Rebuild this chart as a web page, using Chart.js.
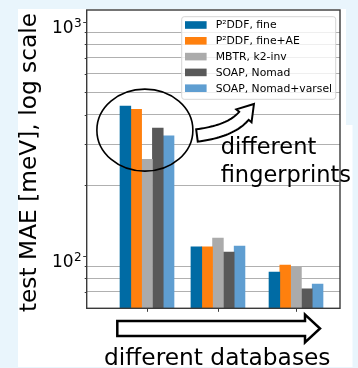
<!DOCTYPE html>
<html>
<head>
<meta charset="utf-8">
<script src="https://cdn.jsdelivr.net/npm/chart.js@4.4.0/dist/chart.umd.min.js"></script>
<style>
  html, body { margin: 0; padding: 0; background: #e9f5fc; }
  canvas { display: block; }
</style>
</head>
<body>
<canvas id="c" width="358" height="368"></canvas>
<script>
// Group positions along the x axis (one group per database)
const groupPositions = [0, 1, 2.1];

// Fingerprint series, test MAE in meV
const seriesLabels = ['P²DDF, fine', 'P²DDF, fine+AE', 'MBTR, k2-inv', 'SOAP, Nomad', 'SOAP, Nomad+varsel'];
const p2ddfFine       = [436, 109, 85.2];
const p2ddfFineAE     = [422, 109, 91.3];
const mbtrK2inv       = [258, 119, 89.5];
const soapNomad       = [351, 103.7, 72.1];
const soapNomadVarsel = [325, 110, 75.7];

// Log axis: labelled decades and minor grid values
const yTickValues = [100, 1000];
const yTickExponents = ['2', '3'];
const yGridValues = [70, 80, 90, 200, 300, 400, 500, 600, 700, 800, 900];

const seriesColors = ['#006BA4', '#FF800E', '#ABABAB', '#595959', '#5F9ED1'];
const seriesValues = [p2ddfFine, p2ddfFineAE, mbtrK2inv, soapNomad, soapNomadVarsel];

const FONT = '"DejaVu Sans", "Liberation Sans", sans-serif';

const datasets = seriesValues.map((vals, i) => ({
  label: seriesLabels[i],
  data: vals.map((v, g) => ({ x: groupPositions[g], y: v })),
  backgroundColor: seriesColors[i],
  borderWidth: 0,
  barThickness: 10.8
}));

// page background and white figure panel
const panelPlugin = {
  id: 'panel',
  beforeDraw(chart) {
    const ctx = chart.ctx;
    ctx.save();
    ctx.fillStyle = '#e9f5fc';
    ctx.fillRect(0, 0, chart.width, chart.height);
    ctx.fillStyle = '#ffffff';
    ctx.fillRect(18, 9, 328, 358);
    ctx.fillRect(346, 125, 6.5, 242);
    ctx.restore();
  }
};

// frame, ticks, tick labels, legend and annotations
const decorPlugin = {
  id: 'decor',
  afterDatasetsDraw(chart) {
    const ctx = chart.ctx;
    const ca = chart.chartArea;
    const xs = chart.scales.x, ys = chart.scales.y;
    ctx.save();

    // frame
    ctx.strokeStyle = '#3a3a3a';
    ctx.lineWidth = 1.4;
    ctx.strokeRect(ca.left, ca.top, ca.right - ca.left, ca.bottom - ca.top);

    // x ticks
    ctx.lineWidth = 1;
    groupPositions.forEach(p => {
      const px = Math.round(xs.getPixelForValue(p)) + 0.5;
      ctx.beginPath();
      ctx.moveTo(px, ca.bottom);
      ctx.lineTo(px, ca.bottom + 3.5);
      ctx.stroke();
    });
    // y ticks (major and minor)
    yTickValues.concat(yGridValues).forEach(v => {
      const py = Math.round(ys.getPixelForValue(v)) + 0.5;
      const len = yTickValues.includes(v) ? 3.5 : 2;
      ctx.beginPath();
      ctx.moveTo(ca.left, py);
      ctx.lineTo(ca.left - len, py);
      ctx.stroke();
    });

    // y tick labels with superscript exponents
    ctx.fillStyle = '#000';
    ctx.textBaseline = 'alphabetic';
    yTickValues.forEach((v, i) => {
      const py = ys.getPixelForValue(v);
      ctx.font = '12px ' + FONT;
      const ew = ctx.measureText(yTickExponents[i]).width;
      const right = ca.left - 5;
      ctx.textAlign = 'right';
      ctx.fillText(yTickExponents[i], right, py + 5.3);
      ctx.font = '17px ' + FONT;
      ctx.fillText('10', right - ew - 0.5, py + 11.5);
    });

    // y axis title
    ctx.save();
    ctx.translate(36, 162.5);
    ctx.rotate(-Math.PI / 2);
    ctx.font = '23.3px ' + FONT;
    ctx.textAlign = 'center';
    ctx.fillText('test MAE [meV], log scale', 0, 0);
    ctx.restore();

    // legend
    const fs = 10.8;
    const lw = 154, lh = 82.6;
    const lx = ca.right - 4.3 - lw, ly = ca.top + 6.7;
    ctx.beginPath();
    ctx.roundRect(lx, ly, lw, lh, 2.5);
    ctx.fillStyle = 'rgba(255,255,255,0.8)';
    ctx.fill();
    ctx.strokeStyle = '#d6d6d6';
    ctx.lineWidth = 1;
    ctx.stroke();
    ctx.font = fs + 'px ' + FONT;
    ctx.textAlign = 'left';
    ctx.textBaseline = 'middle';
    chart.data.datasets.forEach((ds, i) => {
      const cy = ly + 8.3 + i * 15.8;
      ctx.fillStyle = ds.backgroundColor;
      ctx.fillRect(lx + 3.3, cy - 3.8, 21.6, 7.6);
      ctx.fillStyle = '#000';
      ctx.fillText(ds.label, lx + 34, cy + 0.5);
    });

    // ellipse around the first group
    const ex = xs.getPixelForValue(-0.03), ey = ys.getPixelForValue(344);
    ctx.beginPath();
    ctx.ellipse(ex, ey, 48, 41, 0, 0, Math.PI * 2);
    ctx.strokeStyle = '#000';
    ctx.lineWidth = 1.6;
    ctx.stroke();

    // curved hollow arrow
    const A = { x: xs.getPixelForValue(0.704), y: ys.getPixelForValue(326.4) };
    const T = { x: xs.getPixelForValue(1.507), y: ys.getPixelForValue(444.9) };
    drawCurvedArrow(ctx, A, T);

    // fingerprint text
    ctx.fillStyle = '#000';
    ctx.font = '22.5px ' + FONT;
    ctx.textAlign = 'left';
    ctx.textBaseline = 'alphabetic';
    ctx.fillText('different', 220.7, 154);
    ctx.fillText('fingerprints', 220.7, 181.7);

    // horizontal hollow arrow under the axis
    const bx0 = ca.left + 30.6, bx1 = ca.left + 218.3, btip = ca.left + 233.3;
    const by = ca.bottom + 20.2;
    ctx.beginPath();
    ctx.moveTo(bx0, by - 7.5);
    ctx.lineTo(bx1, by - 7.5);
    ctx.lineTo(bx1, by - 13.8);
    ctx.lineTo(btip, by);
    ctx.lineTo(bx1, by + 13.8);
    ctx.lineTo(bx1, by + 7.5);
    ctx.lineTo(bx0, by + 7.5);
    ctx.closePath();
    ctx.fillStyle = '#fff';
    ctx.fill();
    ctx.lineWidth = 2.5;
    ctx.lineJoin = 'miter';
    ctx.strokeStyle = '#000';
    ctx.stroke();

    ctx.fillStyle = '#000';
    ctx.font = '23.3px ' + FONT;
    ctx.fillText('different databases', 104, 365);

    ctx.restore();
  }
};

function drawCurvedArrow(ctx, A, T) {
  // head base sits back from the tip along the tip direction
  const dirx = 10, diry = -11.8;
  const dl = Math.hypot(dirx, diry);
  const ux = dirx / dl, uy = diry / dl;
  const headLen = 15.5, headHalf = 10, tailHalf = 6.2;
  const B = { x: T.x - ux * headLen, y: T.y - uy * headLen };
  const C = { x: B.x - ux * 20, y: B.y - uy * 20 };
  const N = 24;
  const top = [], bot = [];
  for (let k = 0; k <= N; k++) {
    const t = k / N;
    const px = (1 - t) * (1 - t) * A.x + 2 * (1 - t) * t * C.x + t * t * B.x;
    const py = (1 - t) * (1 - t) * A.y + 2 * (1 - t) * t * C.y + t * t * B.y;
    const dx = 2 * (1 - t) * (C.x - A.x) + 2 * t * (B.x - C.x);
    const dy = 2 * (1 - t) * (C.y - A.y) + 2 * t * (B.y - C.y);
    const l = Math.hypot(dx, dy);
    const nx = -dy / l, ny = dx / l;
    top.push({ x: px - nx * tailHalf, y: py - ny * tailHalf });
    bot.push({ x: px + nx * tailHalf, y: py + ny * tailHalf });
  }
  const nx = -uy, ny = ux;
  ctx.beginPath();
  ctx.moveTo(top[0].x, top[0].y);
  top.forEach(p => ctx.lineTo(p.x, p.y));
  ctx.lineTo(B.x - nx * headHalf, B.y - ny * headHalf);
  ctx.lineTo(T.x, T.y);
  ctx.lineTo(B.x + nx * headHalf, B.y + ny * headHalf);
  for (let k = bot.length - 1; k >= 0; k--) ctx.lineTo(bot[k].x, bot[k].y);
  ctx.closePath();
  ctx.fillStyle = '#fff';
  ctx.fill();
  ctx.lineWidth = 2;
  ctx.lineJoin = 'miter';
  ctx.strokeStyle = '#000';
  ctx.stroke();
}

new Chart(document.getElementById('c'), {
  type: 'bar',
  data: { datasets },
  options: {
    responsive: false,
    animation: false,
    devicePixelRatio: 1,
    layout: { padding: { left: 0, right: 18, top: 10, bottom: 0 } },
    plugins: { legend: { display: false }, tooltip: { enabled: false } },
    scales: {
      x: {
        type: 'linear',
        offset: false,
        min: -0.85,
        max: 2.72,
        grid: { display: false, offset: false },
        border: { display: false },
        ticks: { display: false },
        afterFit(s) { s.height = 59.7; }
      },
      y: {
        type: 'logarithmic',
        min: 59.6,
        max: 1122,
        border: { display: false },
        ticks: { display: false },
        grid: {
          drawTicks: false,
          lineWidth: 1,
          color: c => (c.tick && yTickValues.includes(c.tick.value)) ? 'rgba(0,0,0,0)' : '#b0b0b0'
        },
        afterBuildTicks(s) {
          s.ticks = yGridValues.concat(yTickValues).map(v => ({ value: v }));
        },
        afterFit(s) { s.width = 86.7; }
      }
    }
  },
  plugins: [panelPlugin, decorPlugin]
});
</script>
</body>
</html>
